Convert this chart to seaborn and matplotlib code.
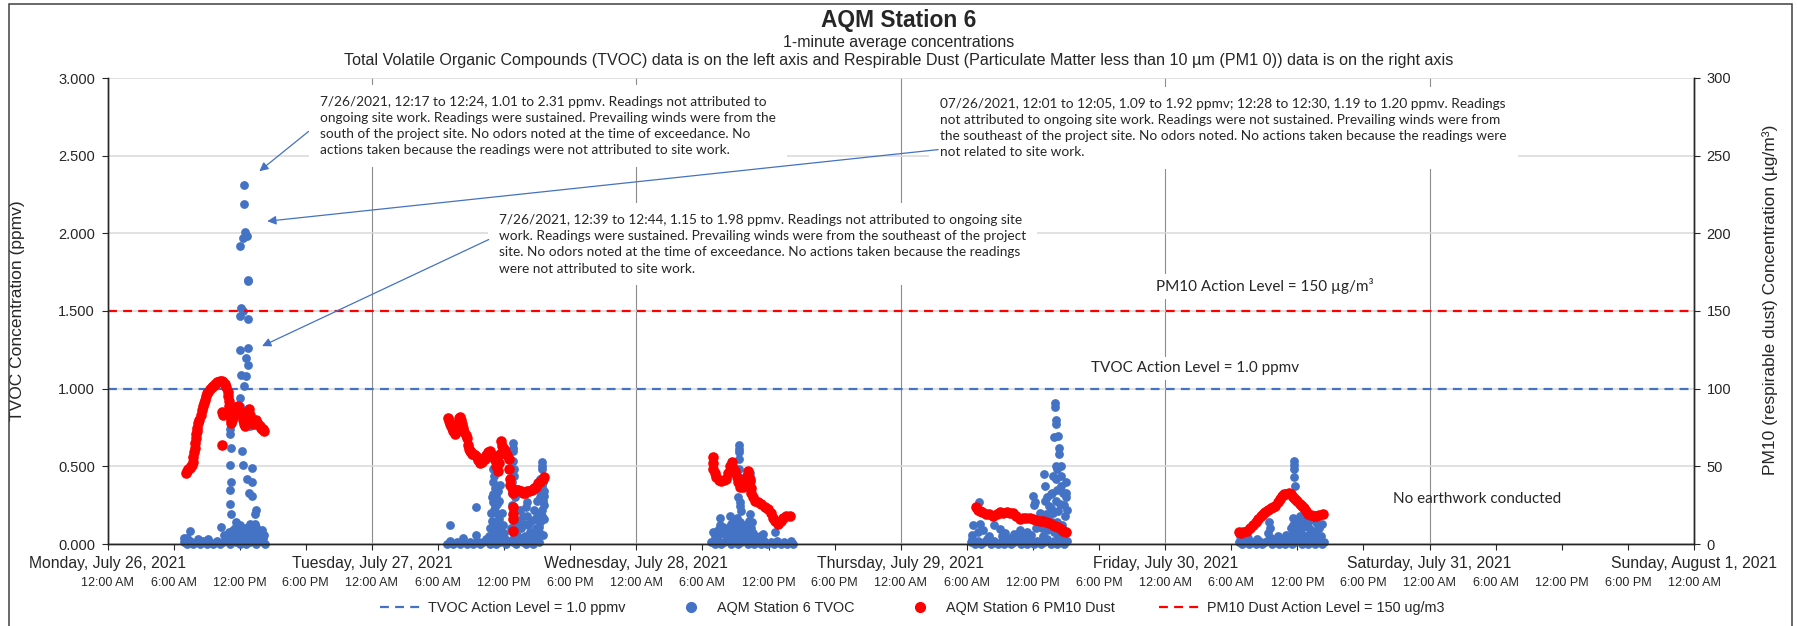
"""
AQM Station 6 - TVOC and PM10 one-minute readings, week of 7/26/2021
"""
import matplotlib
matplotlib.use("Agg")
import matplotlib.pyplot as plt
import matplotlib.ticker as mticker
from matplotlib.lines import Line2D
from matplotlib.patches import Rectangle
import pandas as pd
import seaborn as sns

BLUE = "#4472C4"
RED = "#FF0000"

day_labels = ["Monday, July 26, 2021", "Tuesday, July 27, 2021", "Wednesday, July 28, 2021",
              "Thursday, July 29, 2021", "Friday, July 30, 2021", "Saturday, July 31, 2021",
              "Sunday, August 1, 2021"]
time_labels = ["12:00 AM", "6:00 AM", "12:00 PM", "6:00 PM"]

# TVOC (ppmv) - hour of day / reading, one pair of lists per day
tvoc_mon_h = [6.9, 7.2, 7.5, 7.8, 8.1, 8.4, 8.7, 9.0, 9.3, 9.6, 9.9, 10.2, 10.5, 10.8, 11.1, 11.4, 11.7,
              12.0, 12.3, 12.6, 12.9, 13.2, 13.5, 13.8, 14.1, 14.3,
              7.2, 7.5, 10.3, 10.6, 11.0, 11.3, 11.7, 11.9, 12.2, 12.6, 12.9, 13.1, 13.5, 13.7, 14.0, 14.2,
              11.15, 11.15, 11.2, 11.2, 11.15, 11.25, 11.1, 11.1, 11.25, 12.06, 12.0, 12.2, 12.2, 12.3,
              12.06, 12.1, 12.1, 12.06, 12.06, 12.3, 12.42, 12.42, 12.45, 12.65, 12.75, 12.73, 12.75,
              12.72, 12.55, 12.75, 12.55, 12.4, 12.3, 12.5, 12.95, 12.7, 13.12, 13.12, 12.85, 13.12,
              13.5, 13.35,
              10.9, 11.0, 11.2, 11.4, 11.5, 11.6, 11.8, 12.0, 12.1, 12.4, 12.5, 12.7, 12.8, 13.0, 13.3,
              13.4, 13.6, 13.9, 14.1, 8.2, 9.1, 6.95]
tvoc_mon_v = [0.01, 0.0, 0.02, 0.0, 0.01, 0.0, 0.02, 0.0, 0.01, 0.0, 0.02, 0.0, 0.01, 0.03, 0.0, 0.02, 0.01,
              0.0, 0.02, 0.0, 0.01, 0.03, 0.0, 0.02, 0.01, 0.0,
              0.04, 0.085, 0.11, 0.06, 0.04, 0.07, 0.14, 0.05, 0.08, 0.05, 0.13, 0.05, 0.11, 0.04, 0.09, 0.06,
              0.74, 0.71, 0.78, 0.62, 0.51, 0.40, 0.35, 0.26, 0.19, 0.94, 0.89, 0.82, 0.60, 0.51,
              1.25, 1.09, 1.52, 1.47, 1.92, 1.97, 2.31, 2.19, 2.01, 1.98, 1.70, 1.69, 1.45,
              1.26, 1.20, 1.15, 1.08, 1.02, 1.50, 0.78, 0.76, 0.42, 0.49, 0.40, 0.33, 0.31,
              0.22, 0.19,
              0.03, 0.08, 0.05, 0.09, 0.04, 0.10, 0.06, 0.12, 0.04, 0.07, 0.10, 0.06, 0.09, 0.08, 0.06,
              0.13, 0.07, 0.05, 0.04, 0.03, 0.03, 0.04]

tvoc_tue_h = [6.8, 7.1, 7.4, 7.7, 8.0, 8.3, 8.6, 8.9, 9.2, 9.5, 9.8, 10.1, 10.4, 10.7, 11.0, 11.3, 11.6,
              11.9, 12.2, 12.5, 12.8, 13.1, 13.4, 13.7, 14.0, 14.3, 14.6, 14.9, 15.2,
              7.1, 8.3, 9.45, 9.45, 10.87,
              11.0, 11.1, 11.0, 11.2, 11.0, 11.3, 11.0, 11.2, 11.3, 10.9, 11.4, 11.1, 11.4, 11.5, 11.5, 11.6,
              12.84, 12.84, 12.84, 12.84, 12.9, 12.9, 12.7, 13.0, 12.8, 13.0, 12.9,
              13.3, 13.5, 13.7, 14.05, 14.0, 14.2, 14.35, 13.9,
              15.4, 15.4, 15.4, 15.5, 15.45, 15.6, 15.6, 15.5, 15.6, 15.4, 15.4, 15.3, 15.2, 15.2,
              15.0, 14.8, 15.1,
              10.6, 10.7, 10.8, 10.9, 11.05, 11.15, 11.25, 11.35, 11.45, 11.6, 11.7, 11.8, 11.9, 12.0,
              12.1, 12.6, 12.7, 12.75, 12.95, 13.1, 13.2, 13.4, 13.6, 13.8, 14.1, 14.4, 14.6, 14.7,
              14.9, 15.0, 15.1, 15.25, 15.3, 15.5, 15.6]
tvoc_tue_v = [0.0, 0.02, 0.0, 0.01, 0.0, 0.02, 0.0, 0.01, 0.0, 0.02, 0.0, 0.01, 0.03, 0.0, 0.02, 0.0, 0.01,
              0.03, 0.0, 0.02, 0.01, 0.0, 0.03, 0.01, 0.0, 0.02, 0.0, 0.03, 0.01,
              0.12, 0.04, 0.24, 0.06, 0.05,
              0.48, 0.44, 0.40, 0.36, 0.32, 0.31, 0.27, 0.24, 0.20, 0.15, 0.12, 0.09, 0.07, 0.16, 0.28, 0.38,
              0.65, 0.62, 0.60, 0.535, 0.48, 0.44, 0.40, 0.30, 0.20, 0.12, 0.06,
              0.15, 0.10, 0.18, 0.27, 0.24, 0.12, 0.08, 0.05,
              0.525, 0.50, 0.48, 0.40, 0.375, 0.34, 0.31, 0.28, 0.25, 0.22, 0.18, 0.14, 0.11, 0.08,
              0.20, 0.16, 0.05,
              0.05, 0.10, 0.20, 0.30, 0.22, 0.14, 0.06, 0.26, 0.34, 0.10, 0.04, 0.20, 0.12, 0.07,
              0.03, 0.10, 0.25, 0.33, 0.16, 0.22, 0.06, 0.22, 0.04, 0.13, 0.18, 0.15, 0.06, 0.22,
              0.10, 0.28, 0.35, 0.42, 0.30, 0.06, 0.16]

tvoc_wed_h = [6.8, 7.1, 7.4, 7.7, 8.0, 8.3, 8.6, 8.9, 9.2, 9.5, 9.8, 10.1, 10.4, 10.7, 11.0, 11.3, 11.6,
              11.9, 12.2, 12.5, 12.8, 13.1, 13.4, 13.7, 14.0, 14.2,
              7.1, 7.0, 7.6, 7.6, 7.8, 8.3, 8.5, 8.6, 8.8, 9.0, 9.3, 9.3, 9.3, 9.3, 9.35, 9.35, 9.35,
              9.2, 9.4, 9.4, 9.5, 9.1, 9.2, 9.5, 10.3, 10.4, 10.3, 10.5, 10.4, 10.0, 9.8, 11.5, 12.56, 10.7,
              7.3, 7.9, 8.1, 8.4, 8.7, 8.9, 9.0, 9.1, 9.45, 9.6, 9.7, 9.9, 10.1, 10.2, 10.6, 10.9, 11.2, 7.4]
tvoc_wed_v = [0.01, 0.0, 0.02, 0.0, 0.01, 0.03, 0.0, 0.02, 0.0, 0.01, 0.03, 0.0, 0.02, 0.0, 0.01, 0.0, 0.02,
              0.0, 0.01, 0.0, 0.02, 0.0, 0.01, 0.0, 0.02, 0.0,
              0.05, 0.08, 0.17, 0.12, 0.07, 0.10, 0.18, 0.13, 0.06, 0.15, 0.64, 0.61, 0.59, 0.546, 0.48, 0.43, 0.386,
              0.30, 0.27, 0.246, 0.21, 0.17, 0.118, 0.09, 0.46, 0.42, 0.19, 0.14, 0.10, 0.12, 0.06, 0.064, 0.075, 0.05,
              0.04, 0.11, 0.05, 0.07, 0.03, 0.10, 0.05, 0.08, 0.14, 0.05, 0.12, 0.09, 0.05, 0.15, 0.07, 0.03, 0.05, 0.09]

tvoc_thu_h = [6.4, 6.7, 7.0, 7.3, 7.6, 7.9, 8.2, 8.5, 8.8, 9.1, 9.4, 9.7, 10.0, 10.3, 10.6, 10.9, 11.2,
              11.5, 11.8, 12.1, 12.4, 12.7, 13.0, 13.3, 13.6, 13.9, 14.2, 14.5, 14.8, 15.1,
              6.5, 6.6, 7.1, 7.2, 7.5, 8.0, 8.8, 9.0, 9.5, 10.3, 11.0, 11.5, 12.0, 12.2, 12.1, 12.5, 12.8,
              13.0, 13.1, 13.2, 13.5, 13.8, 13.7, 13.9, 14.0, 14.0, 14.05, 14.05, 13.95, 14.05, 14.3, 14.4,
              14.4, 14.5, 14.5, 14.3, 14.6, 15.0, 15.0, 15.0, 14.8, 14.2, 14.1, 13.6, 13.3,
              6.5, 7.0, 7.8, 8.5, 9.2, 10.0, 10.8, 11.3, 11.8, 12.3, 12.6, 12.9, 13.05, 13.3, 13.4, 13.65,
              13.75, 13.85, 14.15, 14.2, 14.25, 14.45, 14.55, 14.7, 14.75, 14.9, 15.0, 15.05, 14.1]
tvoc_thu_v = [0.01, 0.0, 0.02, 0.0, 0.01, 0.03, 0.0, 0.02, 0.0, 0.01, 0.0, 0.02, 0.0, 0.01, 0.03, 0.0, 0.02,
              0.0, 0.01, 0.0, 0.02, 0.0, 0.01, 0.03, 0.0, 0.02, 0.0, 0.01, 0.0, 0.02,
              0.06, 0.12, 0.27, 0.13, 0.09, 0.05, 0.20, 0.096, 0.07, 0.064, 0.05, 0.08, 0.31, 0.27, 0.25, 0.15, 0.10,
              0.45, 0.375, 0.19, 0.246, 0.44, 0.14, 0.075, 0.91, 0.88, 0.80, 0.77, 0.686, 0.50, 0.696, 0.62,
              0.58, 0.50, 0.375, 0.21, 0.12, 0.33, 0.40, 0.30, 0.25, 0.35, 0.28, 0.32, 0.30,
              0.03, 0.08, 0.03, 0.12, 0.05, 0.04, 0.09, 0.04, 0.06, 0.10, 0.20, 0.05, 0.28, 0.09, 0.18, 0.23,
              0.33, 0.20, 0.14, 0.48, 0.06, 0.26, 0.44, 0.33, 0.05, 0.18, 0.08, 0.22, 0.42]

tvoc_fri_h = [6.7, 7.0, 7.3, 7.6, 7.9, 8.2, 8.5, 8.8, 9.1, 9.4, 9.7, 10.0, 10.3, 10.6, 10.9, 11.2, 11.5,
              11.8, 12.1, 12.4, 12.7, 13.0, 13.3, 13.6, 13.9, 14.2, 14.4,
              6.8, 7.5, 9.4, 9.5, 9.3, 10.2, 11.0, 11.4, 11.7, 11.7, 11.7, 11.7, 11.75, 11.6, 11.6,
              12.2, 12.0, 12.5, 12.7, 13.0, 13.2, 13.7, 13.8, 14.0, 12.8,
              7.2, 8.3, 9.6, 10.8, 11.1, 11.5, 11.8, 11.9, 12.1, 12.3, 12.6, 12.9, 13.1, 13.3, 13.4,
              13.6, 13.9, 14.1, 14.2]
tvoc_fri_v = [0.01, 0.0, 0.02, 0.0, 0.01, 0.0, 0.02, 0.0, 0.01, 0.03, 0.0, 0.02, 0.0, 0.01, 0.0, 0.02, 0.0,
              0.01, 0.03, 0.0, 0.02, 0.0, 0.01, 0.0, 0.02, 0.0, 0.01,
              0.05, 0.04, 0.14, 0.10, 0.07, 0.05, 0.06, 0.10, 0.535, 0.51, 0.48, 0.43, 0.375, 0.17, 0.12,
              0.18, 0.08, 0.11, 0.05, 0.14, 0.09, 0.14, 0.06, 0.10, 0.16,
              0.03, 0.03, 0.04, 0.03, 0.04, 0.06, 0.05, 0.15, 0.12, 0.07, 0.15, 0.05, 0.10, 0.16, 0.05,
              0.08, 0.12, 0.05, 0.13]

# PM10 dust (ug/m3) - hour of day / reading
pm10_mon_h = [7.15, 7.25, 7.35, 7.45, 7.55, 7.65, 7.75, 7.8, 7.85, 7.9, 7.95, 8.0, 8.05, 8.1, 8.15, 8.25,
              8.35, 8.45, 8.55, 8.65, 8.75, 8.85, 8.95, 9.05, 9.15, 9.3, 9.45, 9.6, 9.75, 9.9, 10.05, 10.2,
              10.35, 10.5, 10.65, 10.8, 10.9, 10.95, 11.0, 11.05, 11.1, 11.15, 11.2, 11.25, 11.3, 11.4, 11.5,
              11.6, 11.7, 11.8, 11.9, 12.0, 12.1, 12.2, 12.3, 12.4, 12.5, 12.6, 12.7, 12.8, 12.9, 13.0, 13.1,
              13.2, 13.3, 13.4, 13.5, 13.6, 13.7, 13.8, 13.9, 14.0, 14.1, 14.2, 10.4, 10.45, 10.4]
pm10_mon_v = [46, 47, 48, 49, 50, 51, 53, 56, 59, 62, 65, 68, 71, 73, 75, 78,
              80, 83, 86, 89, 91, 93, 95, 97, 98, 100, 101, 102, 103, 104, 104, 105,
              105, 104, 103, 101, 98, 95, 92, 89, 86, 83, 80, 78, 80, 82, 84,
              86, 88, 89, 87, 85, 84, 85, 80, 77, 76, 80, 85, 87, 83, 80, 78,
              79, 77, 78, 80, 78, 77, 76, 75, 74, 74, 73, 85, 83, 64]

pm10_tue_h = [6.9, 7.0, 7.1, 7.2, 7.3, 7.4, 7.5, 7.6, 7.7, 7.8, 7.9, 8.0, 8.1, 8.2, 8.3, 8.4, 8.5, 8.6,
              8.7, 8.8, 8.9, 9.0, 9.1, 9.2, 9.35, 9.5, 9.65, 9.8, 9.95, 10.1, 10.25, 10.4, 10.55, 10.7,
              10.85, 11.0, 11.15, 11.3, 11.45, 11.55, 11.65, 11.75, 11.85, 11.95, 12.1, 12.25, 12.4, 12.45,
              12.5, 12.55, 12.7, 12.84, 12.84, 12.84, 12.84, 12.84, 13.0, 13.15, 13.3, 13.5, 13.7, 13.9,
              14.1, 14.3, 14.5, 14.7, 14.9, 15.1, 15.3, 15.5, 15.6]
pm10_tue_v = [81, 79, 77, 76, 75, 73, 71, 72, 75, 78, 81, 82, 80, 77, 75, 72, 70, 68,
              64, 61, 60, 59, 58, 58, 57, 56, 54, 52, 53, 54, 55, 57, 59, 60,
              58, 56, 54, 50, 47, 52, 58, 66, 63, 61, 60, 57, 55, 48,
              42, 38, 36, 33, 24, 19, 16, 8.5, 34, 35, 35, 34, 33, 33,
              34, 34, 35, 36, 37, 39, 40, 42, 43]

pm10_wed_h = [6.97, 6.97, 6.97, 7.1, 7.27, 7.5, 7.73, 7.95, 8.18, 8.35, 8.5, 8.64, 8.8, 8.94, 9.1, 9.24,
              9.45, 9.69, 9.85, 10.0, 10.14, 10.25, 10.3, 10.4, 10.45, 10.6, 10.75, 11.05, 11.36, 11.65,
              11.96, 12.2, 12.4, 12.6, 12.86, 13.1, 13.3, 13.6, 13.92]
pm10_wed_v = [55.7, 52, 48, 46, 43, 41, 40.7, 41, 42, 46, 50, 52.5, 49, 47, 43, 39.6,
              37, 36.4, 40, 44, 47, 43, 40.7, 36, 33, 30, 27.9, 26.8, 25.7, 24,
              22.5, 20, 17, 15, 12.9, 15, 17, 18, 18]

pm10_thu_h = [6.85, 7.0, 7.2, 7.4, 7.7, 8.0, 8.4, 8.7, 9.0, 9.3, 9.6, 9.9, 10.2, 10.5, 10.8, 11.1, 11.4,
              11.7, 12.0, 12.3, 12.6, 12.9, 13.2, 13.5, 13.8, 14.0, 14.25, 14.5, 14.75, 15.0]
pm10_thu_v = [23.6, 22, 21, 20.4, 19.5, 19, 18.2, 19, 20.4, 20, 20.5, 20.2, 20, 18, 16, 16.5, 16.8,
              16.5, 16, 15.5, 15, 14.5, 14, 13.5, 12.5, 11.5, 10.7, 9.5, 8.5, 7.5]

pm10_fri_h = [6.7, 6.9, 7.1, 7.4, 7.7, 8.0, 8.2, 8.45, 8.7, 8.9, 9.1, 9.35, 9.6, 9.8, 10.0, 10.2, 10.4,
              10.6, 10.8, 11.0, 11.2, 11.4, 11.6, 11.8, 12.0, 12.2, 12.4, 12.6, 12.8, 13.0, 13.2, 13.5,
              13.7, 14.0, 14.3]
pm10_fri_v = [7.5, 7, 7.5, 8.5, 10, 12.5, 14, 16, 18, 19.5, 20.4, 22, 23, 24, 24.6, 27, 29,
              31, 32, 32.5, 33, 32, 30.5, 29, 27.5, 26, 24.6, 23, 21, 19, 18.5, 18,
              18, 18.5, 19]

tvoc_action = 1.0   # ppmv
pm10_action = 150   # ug/m3

note_1 = ("7/26/2021, 12:17 to 12:24, 1.01 to 2.31 ppmv. Readings not attributed to\n"
          "ongoing site work. Readings were sustained. Prevailing winds were from the\n"
          "south of the project site. No odors noted at the time of exceedance. No\n"
          "actions taken because the readings were not attributed to site work.")
note_2 = ("07/26/2021, 12:01 to 12:05, 1.09 to 1.92 ppmv; 12:28 to 12:30, 1.19 to 1.20 ppmv. Readings\n"
          "not attributed to ongoing site work. Readings were not sustained. Prevailing winds were from\n"
          "the southeast of the project site. No odors noted. No actions taken because the readings were\n"
          "not related to site work.")
note_3 = ("7/26/2021, 12:39 to 12:44, 1.15 to 1.98 ppmv. Readings not attributed to ongoing site\n"
          "work. Readings were sustained. Prevailing winds were from the southeast of the project\n"
          "site. No odors noted at the time of exceedance. No actions taken because the readings\n"
          "were not attributed to site work.")


def armar_tabla(pares):
    """Junta las listas por dia en una tabla con horas desde el lunes 00:00."""
    partes = []
    for dia, (horas, valores) in enumerate(pares):
        partes.append(pd.DataFrame({"hora": [h + 24 * dia for h in horas], "valor": valores}))
    return pd.concat(partes, ignore_index=True)


tvoc = armar_tabla([(tvoc_mon_h, tvoc_mon_v), (tvoc_tue_h, tvoc_tue_v), (tvoc_wed_h, tvoc_wed_v),
                    (tvoc_thu_h, tvoc_thu_v), (tvoc_fri_h, tvoc_fri_v)])
pm10 = armar_tabla([(pm10_mon_h, pm10_mon_v), (pm10_tue_h, pm10_tue_v), (pm10_wed_h, pm10_wed_v),
                    (pm10_thu_h, pm10_thu_v), (pm10_fri_h, pm10_fri_v)])

sns.set_style("white")
plt.rcParams["font.family"] = ["Liberation Sans", "DejaVu Sans"]
NOTE_FONT = ["Lato", "DejaVu Sans"]

W, H = 1797, 626
fig = plt.figure(figsize=(W / 100, H / 100), dpi=100)
ax = fig.add_axes([107.5 / W, 1 - 544 / H, (1694 - 107.5) / W, (544 - 78) / H])
ax2 = ax.twinx()

# grid
ax.set_axisbelow(True)
ax.grid(axis="y", color="#D9D9D9", lw=1.1)
ax.grid(axis="x", visible=False)
for d in range(1, 7):
    ax.axvline(24 * d, color="#8C8C8C", lw=0.8, zorder=0.5)

dash = (0, (4, 2.8))
ax.axhline(tvoc_action, color=BLUE, lw=1.6, ls=dash, zorder=1.5)
ax2.axhline(pm10_action, color=RED, lw=1.6, ls=dash, zorder=1)

sns.scatterplot(data=tvoc, x="hora", y="valor", ax=ax, color=BLUE, s=40, linewidth=0, zorder=2,
                clip_on=False)
sns.scatterplot(data=pm10, x="hora", y="valor", ax=ax2, color=RED, s=58, linewidth=0, zorder=2,
                clip_on=False)

# axes
ax.set_xlim(0, 144)
ax.set_ylim(0, 3)
ax2.set_ylim(0, 300)
ax.set_yticks([0, 0.5, 1.0, 1.5, 2.0, 2.5, 3.0])
ax2.set_yticks([0, 50, 100, 150, 200, 250, 300])
ax.yaxis.set_major_formatter(mticker.FormatStrFormatter("%.3f"))
ax.xaxis.set_major_locator(mticker.MultipleLocator(6))
ax.xaxis.set_major_formatter(mticker.FuncFormatter(lambda v, p: time_labels[int(round(v / 6)) % 4]))
ax.set_xlabel("")
ax2.set_xlabel("")

for a in (ax, ax2):
    a.spines["top"].set_visible(False)
    for s in ("left", "right", "bottom"):
        a.spines[s].set_color("#262626")
        a.spines[s].set_linewidth(1.0)
ax.tick_params(axis="x", direction="out", length=4, width=0.8, color="#262626", pad=19.5,
               labelsize=9, bottom=True)
ax.tick_params(axis="y", direction="out", length=4, width=0.8, color="#262626", pad=5,
               labelsize=10.5, left=True)
ax2.tick_params(axis="y", direction="out", length=4, width=0.8, color="#262626", pad=5,
                labelsize=10.5, right=True)

ax.set_ylabel("TVOC Concentration (ppmv)", fontsize=12.5)
ax.yaxis.set_label_coords(-0.052, 0.5)
ax2.set_ylabel("PM10 (respirable dust) Concentration (µg/m³)", fontsize=12.5, rotation=90)
ax2.yaxis.set_label_coords(1.043, 0.525)

for i, d in enumerate(day_labels):
    ax.annotate(d, xy=(24 * i, 0), xycoords=("data", "axes fraction"), xytext=(0, -13.7),
                textcoords="offset points", ha="center", va="center", fontsize=11.3,
                annotation_clip=False)

# notes and arrows (positions in TVOC axis units)
caja = dict(boxstyle="square,pad=0.8", fc="white", ec="none")
for txt, pos in ((note_1, (19.3, 2.885)), (note_2, (75.6, 2.872)), (note_3, (35.5, 2.125))):
    ax2.text(pos[0], pos[1], txt, transform=ax.transData, ha="left", va="top", fontsize=9.85,
             family=NOTE_FONT, linespacing=1.42, bbox=caja, zorder=5)
for cola, punta in (((18.25, 2.656), (13.78, 2.40)), ((75.4, 2.539), (14.5, 2.078)),
                    ((34.6, 1.96), (14.03, 1.274))):
    ax2.annotate("", xy=punta, xycoords=ax.transData, xytext=cola, textcoords=ax.transData,
                 arrowprops=dict(arrowstyle="-|>", color=BLUE, lw=0.9, mutation_scale=13,
                                 shrinkA=0, shrinkB=0), zorder=6)

etiqueta = dict(boxstyle="square,pad=0.3", fc="white", ec="none")
ax2.text(105.0, 1.66, "PM10 Action Level = 150 µg/m³", transform=ax.transData, ha="center",
         va="center", fontsize=11, family=NOTE_FONT, bbox=etiqueta, zorder=5)
ax2.text(98.7, 1.131, "TVOC Action Level = 1.0 ppmv", transform=ax.transData, ha="center",
         va="center", fontsize=11, family=NOTE_FONT, bbox=etiqueta, zorder=5)
ax2.text(124.3, 0.289, "No earthwork conducted", transform=ax.transData, ha="center",
         va="center", fontsize=11, family=NOTE_FONT, zorder=5)

# titles
fig.text(899 / W, 1 - 21 / H, "AQM Station 6", ha="center", va="center", fontsize=16.4, weight="bold")
fig.text(899 / W, 1 - 43 / H, "1-minute average concentrations", ha="center", va="center", fontsize=11.4)
fig.text(899 / W, 1 - 61 / H,
         "Total Volatile Organic Compounds (TVOC) data is on the left axis and Respirable Dust "
         "(Particulate Matter less than 10 µm (PM1 0)) data is on the right axis",
         ha="center", va="center", fontsize=11.6)

# legend
handles = [Line2D([], [], color=BLUE, lw=1.6, ls=dash),
           Line2D([], [], ls="none", marker="o", color=BLUE, markersize=7),
           Line2D([], [], ls="none", marker="o", color=RED, markersize=7),
           Line2D([], [], color=RED, lw=1.6, ls=dash)]
labels = ["TVOC Action Level = 1.0 ppmv", "AQM Station 6 TVOC", "AQM Station 6 PM10 Dust",
          "PM10 Dust Action Level = 150 ug/m3"]
fig.legend(handles, labels, loc="center", bbox_to_anchor=(912 / W, 1 - 608 / H), ncol=4,
           frameon=False, fontsize=10.4, handlelength=3.1, handletextpad=0.25, columnspacing=3.0)

fig.add_artist(Rectangle((9 / W, -0.05), (1792 - 9) / W, 1.05 - 4 / H, transform=fig.transFigure,
                         fill=False, ec="#404040", lw=1.1))

fig.savefig("out.png", dpi=100)
